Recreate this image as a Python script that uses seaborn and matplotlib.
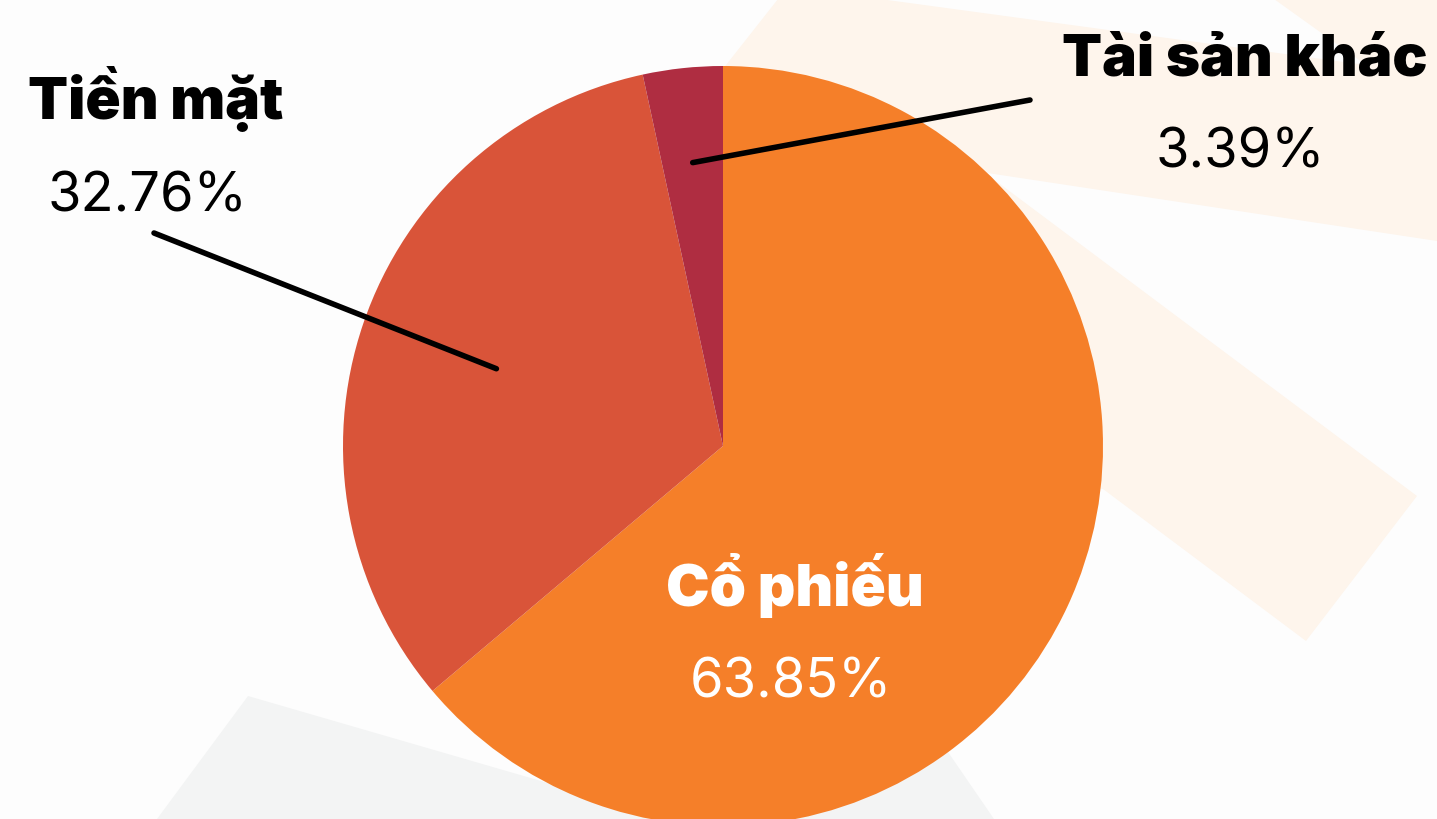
import matplotlib
matplotlib.use("Agg")
import matplotlib.pyplot as plt
from matplotlib.patches import Polygon
import numpy as np
import seaborn as sns

# ---- data ----
categories = ["Cổ phiếu", "Tiền mặt", "Tài sản khác"]
shares = [63.85, 32.76, 3.39]
pct_labels = ["63.85%", "32.76%", "3.39%"]
colors = ["#F57F29", "#D95439", "#AF2D41"]

sns.set_theme(style="white")
plt.rcParams["font.family"] = ["Inter", "Noto Sans", "DejaVu Sans"]

W, H = 1437, 820
fig = plt.figure(figsize=(W / 100, H / 100), dpi=100, facecolor="#FDFDFD")
ax = fig.add_axes([0, 0, 1, 1])
ax.set_facecolor("#FDFDFD")

def P(pts):
    return [(x, H - y) for x, y in pts]

# decorative background shapes (pixel coordinates, y downward)
cream = "#FEF5EC"
gray = "#F3F4F4"
bg_shapes = [
    ([(700, 99), (778, 0), (880, 0), (1366, 66), (1274, 0), (1437, 0),
      (1437, 242), (1027, 180), (723, 134)], cream),
    ([(723, 447), (984, 173), (1417, 497), (1306, 642), (1103, 490)], cream),
    ([(157, 820), (248, 697), (672, 820)], gray),
    ([(843, 600), (994, 820), (700, 820)], gray),
]
for pts, c in bg_shapes:
    ax.add_patch(Polygon(P(pts), closed=True, facecolor=c, edgecolor="none", zorder=0))

cx, cy, R = 723, H - 447, 380
wedges, _ = ax.pie(shares, colors=colors, startangle=90, counterclock=False,
                   center=(cx, cy), radius=R, frame=False,
                   wedgeprops=dict(linewidth=0))
for w in wedges:
    w.set_zorder(2)

ax.set_xlim(0, W)
ax.set_ylim(0, H)
ax.set_aspect("auto")
ax.axis("off")

# wedge mid-angles for leader lines
def mid_point(i, frac):
    w = wedges[i]
    a = np.deg2rad((w.theta1 + w.theta2) / 2)
    return cx + frac * R * np.cos(a), cy + frac * R * np.sin(a)

lw = 4.0
# Tiền mặt leader
x0, y0 = mid_point(1, 0.63)
ax.plot([x0, 154], [y0, H - 234], color="black", lw=lw, solid_capstyle="round", zorder=3)
# Tài sản khác leader
x1, y1 = mid_point(2, 0.75)
ax.plot([x1, 1030], [y1, H - 101], color="black", lw=lw, solid_capstyle="round", zorder=3)

fs_title = 42
fs_pct = 39
tw = 900
pw = "normal"
ax.text(28, H - 119, categories[1], ha="left", va="baseline", fontsize=fs_title,
        fontweight=tw, color="black", zorder=4)
ax.text(48, H - 212, pct_labels[1], ha="left", va="baseline", fontsize=fs_pct,
        fontweight=pw, color="black", zorder=4)
ax.text(1245, H - 75, categories[2], ha="center", va="baseline", fontsize=fs_title,
        fontweight=tw, color="black", zorder=4)
ax.text(1240, H - 168, pct_labels[2], ha="center", va="baseline", fontsize=fs_pct,
        fontweight=pw, color="black", zorder=4)
ax.text(795, H - 606, categories[0], ha="center", va="baseline", fontsize=fs_title,
        fontweight=tw, color="white", zorder=4)
ax.text(791, H - 698, pct_labels[0], ha="center", va="baseline", fontsize=fs_pct,
        fontweight=pw, color="white", zorder=4)

fig.savefig("out.png", dpi=100, facecolor=fig.get_facecolor())
